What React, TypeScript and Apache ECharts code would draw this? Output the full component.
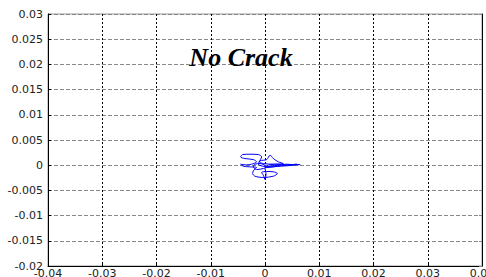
import React, { useEffect, useRef } from "react";
import * as echarts from "echarts";

const xTicks = { min: -0.04, max: 0.04, interval: 0.01 };
const yTicks = { min: -0.02, max: 0.03, interval: 0.005 };
const titleText = "No Crack";

const trajX = [
  0, -0.00093, -0.00185, -0.00216, -0.00154, -0.00031, 0.00093, 0.00247, 0.00401, 0.00494,
  0.00648, 0.00463, 0.00278, 0.00093, -0.00043, -0.00123, -0.00093, 0.00031, 0.00093, 0.00154,
  0.00247, 0.00339, 0.00154, -0.00031, -0.00105, -0.00062, -0.00123, -0.00278, -0.00413, -0.0045,
  -0.0037, -0.00216, -0.00154, -0.00247, -0.00339, -0.0045, -0.00401, -0.00278, -0.00154, -0.00216,
  -0.00228, -0.00185, -0.00031, 0.00154, 0.00228, 0.00154, 0.00031, -0.00062, -0.00031, 0,
  0.00019, 0, 0.00062, 0.00216, 0.00401, 0.00586, 0.00494, 0.00308, 0.00154, 0.00031, 0,
];
const trajY = [
  0, 0.00033, 0.0002, -0.00033, -0.00086, -0.00066, -0.0002, 0, 0.0002, 0.00013,
  0.00013, -0.00007, -0.0002, -0.00033, -0.0002, 0.0002, 0.00086, 0.00112, 0.00198, 0.00132,
  0.00066, 0.00033, 0.0002, 0.00033, 0.00066, 0.00165, 0.00211, 0.00218, 0.00211, 0.00165,
  0.00132, 0.00112, 0.00066, 0.0002, 0.00007, 0.0002, -0.0002, -0.00033, -0.00046, -0.00112,
  -0.00165, -0.00218, -0.00244, -0.00218, -0.00165, -0.00132, -0.00125, -0.00145, -0.00198, -0.00284,
  -0.00165, -0.00066, 0, 0.0002, 0.00007, 0.0002, 0.00007, -0.00007, -0.00033, -0.00046, 0,
];

const fmt = (v: number) => String(parseFloat(v.toFixed(4)));

export default function App() {
  const ref = useRef<HTMLDivElement>(null);
  useEffect(() => {
    document.body.style.margin = "0";
    const chart = echarts.init(ref.current!, null, { renderer: "svg" });
    const data = trajX.map((x, i) => [x, trajY[i]]);
    const labelStyle = {
      color: "#222",
      fontFamily: "DejaVu Sans",
      fontSize: 11,
      formatter: fmt,
    };
    chart.setOption({
      animation: false,
      backgroundColor: "#fff",
      grid: {
        left: 48,
        right: 4,
        top: 14,
        bottom: 11,
        outerBoundsMode: "none",
        containLabel: false,
        show: true,
        borderColor: "#999",
        borderWidth: 1,
        backgroundColor: "#fff",
      },
      xAxis: {
        type: "value",
        min: xTicks.min,
        max: xTicks.max,
        interval: xTicks.interval,
        axisLine: { show: true, onZero: false, lineStyle: { color: "#000", width: 1 } },
        axisTick: { show: true, inside: true, length: 3, lineStyle: { color: "#000" } },
        axisLabel: { ...labelStyle, margin: 2 },
        splitLine: { show: true, lineStyle: { color: "#000", type: [2, 2], width: 1 } },
      },
      yAxis: [
        {
          type: "value",
          min: yTicks.min,
          max: yTicks.max,
          interval: yTicks.interval,
          axisLine: { show: true, onZero: false, lineStyle: { color: "#000", width: 1 } },
          axisTick: { show: true, inside: true, length: 3, lineStyle: { color: "#000" } },
          axisLabel: { ...labelStyle, margin: 5 },
          splitLine: { show: true, lineStyle: { color: "#888", type: [4, 2], width: 1 } },
        },
        {
          type: "value",
          position: "right",
          min: yTicks.min,
          max: yTicks.max,
          interval: yTicks.interval,
          axisLine: { show: true, onZero: false, lineStyle: { color: "#000", width: 1 } },
          axisTick: { show: true, inside: true, length: 3, lineStyle: { color: "#888" } },
          axisLabel: { show: false },
          splitLine: { show: false },
        },
      ],
      graphic: [
        {
          type: "text",
          x: 241,
          y: 57,
          style: {
            text: titleText,
            fontFamily: "Liberation Serif",
            fontWeight: "bold",
            fontStyle: "italic",
            fontSize: 26,
            fill: "#000",
            textAlign: "center",
            textVerticalAlign: "middle",
          },
          z: 10,
        },
      ],
      series: [
        {
          type: "line",
          data,
          showSymbol: false,
          smooth: 0.3,
          lineStyle: { color: "#0000ff", width: 1 },
        },
      ],
    });
    return () => chart.dispose();
  }, []);
  return <div ref={ref} style={{ width: 486, height: 277 }} />;
}
